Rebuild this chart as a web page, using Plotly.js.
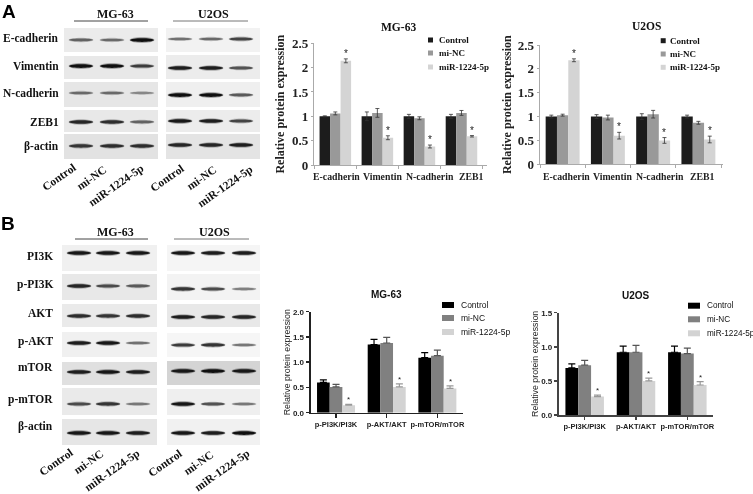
<!DOCTYPE html>
<html><head><meta charset="utf-8">
<script src="https://cdn.plot.ly/plotly-3.0.1.min.js"></script>
<style>html,body{margin:0;padding:0;background:#fff;overflow:hidden}#c{width:753px;height:494px;filter:blur(0.35px)}</style>
</head><body><div id="c"></div>
<script>
// ---------- DATA ----------
const seriesNames = ['Control','mi-NC','miR-1224-5p'];
const emtCats = ['E-cadherin','Vimentin','N-cadherin','ZEB1'];
const aktCats = ['p-PI3K/PI3K','p-AKT/AKT','p-mTOR/mTOR'];

const a1Control = [1.00,1.00,1.00,1.00];
const a1MiNC    = [1.06,1.07,0.96,1.07];
const a1MiR     = [2.14,0.56,0.38,0.59];
const a1ControlErr = [0.01,0.09,0.04,0.04];
const a1MiNCErr    = [0.03,0.09,0.03,0.05];
const a1MiRErr     = [0.04,0.04,0.03,0.015];

const a2Control = [1.00,1.00,1.00,1.00];
const a2MiNC    = [1.03,0.98,1.05,0.87];
const a2MiR     = [2.18,0.60,0.50,0.52];
const a2ControlErr = [0.03,0.04,0.06,0.03];
const a2MiNCErr    = [0.02,0.05,0.08,0.03];
const a2MiRErr     = [0.03,0.07,0.06,0.07];

const b1Control = [0.60,1.35,1.09];
const b1MiNC    = [0.51,1.38,1.13];
const b1MiR     = [0.15,0.51,0.48];
const b1ControlErr = [0.05,0.10,0.10];
const b1MiNCErr    = [0.05,0.11,0.11];
const b1MiRErr     = [0.015,0.06,0.05];

const b2Control = [0.69,0.92,0.92];
const b2MiNC    = [0.73,0.92,0.90];
const b2MiR     = [0.27,0.50,0.44];
const b2ControlErr = [0.06,0.09,0.09];
const b2MiNCErr    = [0.07,0.10,0.08];
const b2MiRErr     = [0.02,0.04,0.05];

// blot rows: labels and band strength per lane (0..1)
const blotARows = ['E-cadherin','Vimentin','N-cadherin','ZEB1','β-actin'];
const blotAMG = [[.45,.4,1],[1,1,.7],[.4,.4,.2],[.85,.8,.45],[.75,.8,.8]];
const blotAU2 = [[.35,.4,.65],[.9,.9,.55],[1,1,.5],[.95,.9,.65],[.85,.85,.9]];
const blotBRows = ['PI3K','p-PI3K','AKT','p-AKT','mTOR','p-mTOR','β-actin'];
const blotBMG = [[.95,.95,.95],[.85,.6,.5],[.8,.75,.8],[.9,.95,.35],[.9,.95,.9],[.6,.75,.3],[.95,.95,.9]];
const blotBU2 = [[.95,.9,.9],[.75,.6,.25],[.9,.85,.85],[.7,.75,.3],[.95,1,.95],[.95,.55,.3],[.95,.9,1]];
const cellLines = ['MG-63','U2OS'];

// ---------- LAYOUT HELPERS ----------
const W = 753, H = 494;
const SERIF = '"Liberation Serif", serif', SANS = '"Liberation Sans", sans-serif';
const fx = x => x / W, fy = y => 1 - y / H;
const shapes = [], annotations = [], traces = [];
const axes = {};

function txt(text, x, y, size, family, opts) {
  annotations.push(Object.assign({
    text, x: fx(x), y: fy(y), xref: 'paper', yref: 'paper', showarrow: false,
    font: {family, size, color: '#111'}, xanchor: 'center', yanchor: 'middle'
  }, opts || {}));
}
function rect(x0, y0, x1, y1, fill) {
  shapes.push({type: 'rect', xref: 'paper', yref: 'paper', layer: 'below',
    x0: fx(x0), x1: fx(x1), y0: fy(y0), y1: fy(y1), fillcolor: fill, line: {width: 0}});
}
function band(cx, cy, hw, hh, strength) {
  const path = (w, h) => {
    const l = fx(cx - w), r = fx(cx + w), c1 = fx(cx - w * 0.92), c2 = fx(cx + w * 0.92);
    const t = fy(cy - h), b = fy(cy + h), m = fy(cy);
    return `M${l},${m} C${c1},${t} ${c2},${t} ${r},${m} C${c2},${b} ${c1},${b} ${l},${m} Z`;
  };
  const g = Math.round(165 - 150 * strength);
  shapes.push({type: 'path', xref: 'paper', yref: 'paper', layer: 'below', path: path(hw, hh * 1.6),
    fillcolor: `rgba(${g},${g},${g},0.3)`, line: {width: 0}});
  shapes.push({type: 'path', xref: 'paper', yref: 'paper', layer: 'below', path: path(hw * 0.96, hh),
    fillcolor: `rgb(${g},${g},${g})`, line: {width: 0}});
}
function blot(spec) {
  spec.columns.forEach((col, ci) => {
    spec.rowBoxes[ci].forEach((box, ri) => {
      rect(col.x0, box[0], col.x1, box[1], spec.fills[ci][ri]);
      col.strength[ri].forEach((s, li) => band(col.lanes[li], spec.bandY[ci][ri], 12.5, 1.3 + 1.2 * s, s));
    });
    shapes.push({type: 'line', xref: 'paper', yref: 'paper', x0: fx(col.lineX[0]), x1: fx(col.lineX[1]),
      y0: fy(spec.headerLine), y1: fy(spec.headerLine), line: {color: ci ? '#777' : '#444', width: 1}});
    txt('<b>' + cellLines[ci] + '</b>', col.headX, spec.headerY, 12, SERIF);
    col.rot.forEach((p, li) => txt('<b>' + seriesNames[li] + '</b>', p[0], p[1], 11.5, SERIF, {textangle: -35}));
  });
  spec.rows.forEach((r, ri) => txt('<b>' + r + '</b>', spec.labelX, spec.labelY[ri], 11.5, SERIF, {xanchor: 'right'}));
}

blot({
  rows: blotARows, labelX: 61, labelY: [38, 66, 93, 122, 146],
  headerY: 14.5, headerLine: 21,
  columns: [
    {x0: 64, x1: 158, lanes: [81, 112, 142], strength: blotAMG, lineX: [74, 148], headX: 115,
     rot: [[59, 177], [91, 178], [116, 185]]},
    {x0: 166, x1: 260, lanes: [180, 211, 241], strength: blotAU2, lineX: [173, 248], headX: 213,
     rot: [[167, 178], [201, 178], [225, 186]]}
  ],
  rowBoxes: [[[28,52],[56,79],[82,107],[110,132],[134,159]], [[28,52],[55,79],[82,107],[110,132],[134,159]]],
  bandY: [[40,66,93,122,146], [39,68,95,121,145]],
  fills: [['#ebebeb','#e8e8e8','#e6e6e6','#e8e8e8','#e2e2e2'], ['#f2f2f2','#ececec','#efefef','#ececec','#e4e4e4']]
});
blot({
  rows: blotBRows, labelX: 55, labelY: [256, 284, 313, 341, 367, 399, 426],
  headerY: 232.5, headerLine: 239,
  columns: [
    {x0: 62, x1: 157, lanes: [79, 108, 138], strength: blotBMG, lineX: [75, 148], headX: 115,
     rot: [[56, 462], [88, 462], [112, 470]]},
    {x0: 167, x1: 260, lanes: [183, 213, 244], strength: blotBU2, lineX: [174, 249], headX: 214,
     rot: [[165, 463], [198, 463], [222, 470]]}
  ],
  rowBoxes: [[[245,271],[274,300],[304,327],[332,357],[362,385],[388,415],[419,445]],
             [[245,271],[274,300],[304,327],[333,357],[361,385],[389,415],[419,445]]],
  bandY: [[253,286,316,343,372,404,433], [253,289,317,345,371,404,433]],
  fills: [['#f0f0f0','#e8e8e8','#eaeaea','#f0f0f0','#e0e0e0','#eaeaea','#e6e6e6'],
          ['#f5f5f5','#f3f3f3','#e8e8e8','#f6f6f6','#d4d4d4','#efefef','#f1f1f1']]
});
txt('<b>A</b>', 9, 11, 19, SANS, {font: {family: SANS, size: 19, color: '#000'}});
txt('<b>B</b>', 8, 223, 19, SANS, {font: {family: SANS, size: 19, color: '#000'}});

// ---------- CHARTS ----------
function chart(id, c) {
  const xn = id === 1 ? 'xaxis' : 'xaxis' + id, yn = id === 1 ? 'yaxis' : 'yaxis' + id;
  const xr = id === 1 ? 'x' : 'x' + id, yr = id === 1 ? 'y' : 'y' + id;
  c.values.forEach((v, i) => {
    traces.push({
      type: 'bar', x: c.cats, y: v, name: seriesNames[i], xaxis: xr, yaxis: yr, showlegend: false,
      marker: {color: c.colors[i], line: {width: 0}},
      error_y: c.oneSided
        ? {type: 'data', symmetric: false, array: c.errs[i], arrayminus: c.errs[i].map(() => 0),
           color: c.errColors[i], thickness: 1.2, width: 3.5}
        : {type: 'data', array: c.errs[i], color: c.errColors[i], thickness: 0.8, width: 2}
    });
  });
  const family = c.serif ? SERIF : SANS;
  const wrap = s => '<b>' + s + '</b>';
  axes[xn] = {
    type: 'category', domain: [fx(c.px[0]), fx(c.px[1])], anchor: yr, range: c.xRange, fixedrange: true,
    tickson: c.serif ? 'boundaries' : 'labels', ticks: 'outside', ticklen: c.serif ? 3 : 3.5,
    tickwidth: c.serif ? 1 : 1.5, tickcolor: c.axisColor, linecolor: c.axisColor, linewidth: c.serif ? 1 : 1.6,
    showline: true, showgrid: false, zeroline: false, tickangle: 0,
    tickmode: 'array', tickvals: c.cats, ticktext: c.cats.map(wrap),
    showticklabels: !c.catX,
    tickfont: {family, size: c.catSize, color: '#222'}
  };
  // the source's category labels sit slightly off their bar groups
  if (c.catX) c.cats.forEach((n, i) => txt(wrap(n), c.catX[i], c.catY, c.catSize, family, {font: {family, size: c.catSize, color: '#222'}}));
  axes[yn] = {
    domain: [fy(c.py[1]), fy(c.py[0])], anchor: xr, range: c.yRange, dtick: c.dtick, fixedrange: true,
    tickformat: c.serif ? '' : '.1f', ticks: 'outside', ticklen: c.serif ? 2.5 : 3.5,
    tickwidth: c.serif ? 1 : 1.5, tickcolor: c.axisColor, linecolor: c.axisColor, linewidth: c.serif ? 1 : 1.6,
    showline: true, showgrid: false, zeroline: false,
    tickprefix: '<b>', ticksuffix: '</b>',
    tickfont: {family, size: c.tickSize, color: '#222'},
    title: {text: c.serif ? wrap('Relative protein expression') : 'Relative protein expression',
            font: {family, size: c.yTitleSize, color: '#222'}, standoff: c.standoff}
  };
  txt(wrap(c.title), c.titleX, c.titleY, c.titleSize, family);
  // significance stars on the treatment series
  c.values[2].forEach((v, i) => {
    annotations.push({text: '*', xref: xr, yref: yr, x: i + 0.25, y: v + c.errs[2][i], yanchor: 'bottom', yshift: c.starShift,
      showarrow: false, font: {family: SANS, size: c.starSize, color: '#222'}});
  });
  // legend key
  seriesNames.forEach((n, i) => {
    const y = c.legY[i];
    rect(c.legX[0], y - c.legH, c.legX[1], y + c.legH, c.colors[i]);
    txt(c.serif ? wrap(n) : n, c.legX[2], y, c.legSize, family, {xanchor: 'left'});
  });
}
const aColors = ['#1c1c1c', '#999999', '#d4d4d4'];
const bColors = ['#000000', '#808080', '#d3d3d3'];
chart(1, {serif: true, cats: emtCats, values: [a1Control, a1MiNC, a1MiR], errs: [a1ControlErr, a1MiNCErr, a1MiRErr],
  colors: aColors, errColors: ['#333', '#333', '#333'], axisColor: '#aaaaaa', px: [314.3, 486.7], py: [43.3, 165],
  xRange: [-0.5, 3.6], yRange: [0, 2.5], dtick: 0.5, catSize: 9.8, tickSize: 13, yTitleSize: 12, standoff: 4,
  catX: [336, 382.5, 430, 471], catY: 176,
  title: 'MG-63', titleX: 398, titleY: 27, titleSize: 11.5, starShift: -2, starSize: 10,
  legX: [428, 433, 436.7], legY: [40, 53, 67], legH: 2.5, legSize: 9});
chart(2, {serif: true, cats: emtCats, values: [a2Control, a2MiNC, a2MiR], errs: [a2ControlErr, a2MiNCErr, a2MiRErr],
  colors: aColors, errColors: ['#333', '#333', '#333'], axisColor: '#aaaaaa', px: [540, 723.3], py: [45, 164.3],
  xRange: [-0.5, 3.55], yRange: [0, 2.5], dtick: 0.5, catSize: 9.8, tickSize: 13, yTitleSize: 12, standoff: 3,
  catX: [566, 612, 660, 702], catY: 176,
  title: 'U2OS', titleX: 646, titleY: 26, titleSize: 11.5, starShift: -2, starSize: 10,
  legX: [660.7, 665.7, 667.7], legY: [40.7, 54, 67.3], legH: 2.5, legSize: 9});
chart(3, {serif: false, oneSided: true, cats: aktCats, values: [b1Control, b1MiNC, b1MiR], errs: [b1ControlErr, b1MiNCErr, b1MiRErr],
  colors: bColors, errColors: ['#000', '#555', '#999'], axisColor: '#222', px: [310.7, 462.7], py: [311.7, 412.7],
  xRange: [-0.5, 2.5], yRange: [0, 2], dtick: 0.5, catSize: 7.5, tickSize: 8, yTitleSize: 8.8, standoff: 1,
  title: 'MG-63', titleX: 386.7, titleY: 294.7, titleSize: 10, starShift: -2, starSize: 8,
  legX: [442, 454, 459], legY: [305, 318, 332], legH: 3, legSize: 8.5});
chart(4, {serif: false, oneSided: true, cats: aktCats, values: [b2Control, b2MiNC, b2MiR], errs: [b2ControlErr, b2MiNCErr, b2MiRErr],
  colors: bColors, errColors: ['#000', '#555', '#999'], axisColor: '#444', px: [559, 713], py: [312.7, 415],
  xRange: [-0.5, 2.5], yRange: [0, 1.5], dtick: 0.5, catSize: 7.5, tickSize: 8, yTitleSize: 8.8, standoff: 1,
  title: 'U2OS', titleX: 636, titleY: 295.7, titleSize: 10, starShift: -2, starSize: 8,
  legX: [688, 700, 704.5], legY: [305.7, 319.3, 333.3], legH: 3, legSize: 8.2});

Plotly.newPlot('c', traces, Object.assign({
  width: W, height: H, margin: {l: 0, r: 0, t: 0, b: 0}, paper_bgcolor: '#fff', plot_bgcolor: 'rgba(0,0,0,0)',
  barmode: 'group', bargap: 0.25, bargroupgap: 0, showlegend: false, shapes, annotations
}, axes), {displayModeBar: false, staticPlot: true});
</script></body></html>
